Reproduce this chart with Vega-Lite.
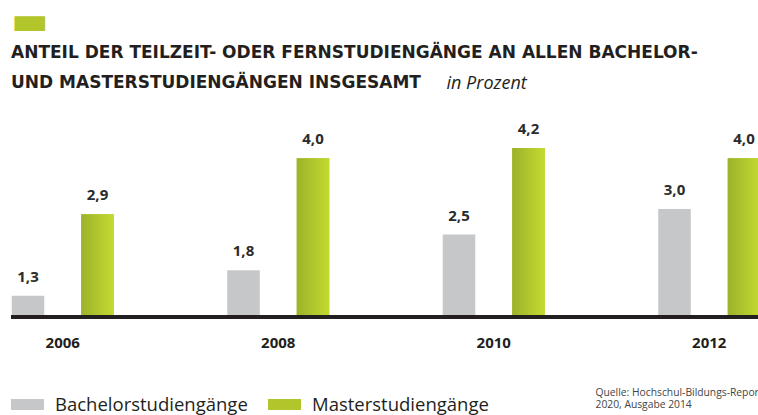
{
  "$schema": "https://vega.github.io/schema/vega-lite/v6.json",
  "width": 747,
  "height": 200,
  "autosize": "none",
  "padding": {"left": 11, "top": 115, "right": 0, "bottom": 100},
  "background": "white",
  "title": {
    "text": "▬",
    "subtitle": ["ANTEIL DER TEILZEIT- ODER FERNSTUDIENGÄNGE AN ALLEN BACHELOR-", "UND MASTERSTUDIENGÄNGEN INSGESAMT"],
    "anchor": "start",
    "frame": "group",
    "font": "DejaVu Sans",
    "fontSize": 40,
    "fontWeight": "normal",
    "color": "#b2c62c",
    "subtitleFont": "DejaVu Sans",
    "subtitleFontSize": 17,
    "subtitleFontWeight": "bold",
    "subtitleColor": "#231f20",
    "subtitleLineHeight": 30,
    "subtitlePadding": 3,
    "offset": -17
  },
  "data": {
    "values": [
      {"jahr": "2006", "typ": "Bachelorstudiengänge", "wert": 1.3},
      {"jahr": "2006", "typ": "Masterstudiengänge", "wert": 2.9},
      {"jahr": "2008", "typ": "Bachelorstudiengänge", "wert": 1.8},
      {"jahr": "2008", "typ": "Masterstudiengänge", "wert": 4.0},
      {"jahr": "2010", "typ": "Bachelorstudiengänge", "wert": 2.5},
      {"jahr": "2010", "typ": "Masterstudiengänge", "wert": 4.2},
      {"jahr": "2012", "typ": "Bachelorstudiengänge", "wert": 3.0},
      {"jahr": "2012", "typ": "Masterstudiengänge", "wert": 4.0}
    ]
  },
  "layer": [
    {
      "mark": {"type": "bar"},
      "encoding": {
        "x": {
          "field": "jahr", "type": "nominal",
          "scale": {"range": [-56, 806], "paddingInner": 0, "paddingOuter": 0},
          "axis": {
            "title": ["Quelle: Hochschul-Bildungs-Report", "2020, Ausgabe 2014"],
            "titleX": 584, "titleY": 72, "titleAlign": "left", "titleBaseline": "top",
            "titleFont": "Open Sans", "titleFontSize": 10.3, "titleFontWeight": "normal",
            "titleColor": "#444444", "titleLineHeight": 12.5,
            "labelFont": "Open Sans", "labelFontSize": 15, "labelFontWeight": "bold",
            "labelColor": "#231f20", "labelAngle": 0, "labelPadding": 20,
            "domain": false, "ticks": false, "grid": false
          }
        },
        "xOffset": {"field": "typ", "type": "nominal", "scale": {"paddingInner": 0.532, "paddingOuter": 0.8165}},
        "y": {
          "field": "wert", "type": "quantitative",
          "scale": {"domain": [0.92, 4.847], "zero": false, "nice": false},
          "axis": {
            "title": "in Prozent", "titleAngle": 0, "titleX": 435, "titleY": -27,
            "titleAlign": "left", "titleBaseline": "alphabetic",
            "titleFont": "Open Sans", "titleFontStyle": "italic", "titleFontWeight": "normal",
            "titleFontSize": 18, "titleColor": "#231f20",
            "labels": false, "ticks": false, "domain": false, "grid": false
          }
        },
        "y2": {"datum": 0.92},
        "color": {
          "field": "typ", "type": "nominal",
          "scale": {
            "domain": ["Bachelorstudiengänge", "Masterstudiengänge"],
            "range": ["#c6c7c9", "#b2c62c"]
          },
          "legend": {
            "orient": "none", "legendX": 0, "legendY": 273, "direction": "horizontal",
            "title": null, "padding": 0,
            "symbolType": "M-1,-0.34H1V0.34H-1Z", "symbolSize": 1089, "symbolStrokeWidth": 0,
            "labelFont": "Open Sans", "labelFontSize": 18.5, "labelColor": "#231f20",
            "labelOffset": 11, "columnPadding": 20, "labelLimit": 400,
            "encode": {
              "symbols": {
                "update": {
                  "fill": [
                    {"test": "datum.value === 'Masterstudiengänge'", "value": {"gradient": "linear", "x1": 0, "y1": 0, "x2": 1, "y2": 0, "stops": [{"offset": 0, "color": "#9db22a"}, {"offset": 1, "color": "#c4da30"}]}},
                    {"value": "#c6c7c9"}
                  ]
                }
              }
            }
          }
        }
      }
    },
    {
      "transform": [{"filter": "datum.typ === 'Masterstudiengänge'"}],
      "mark": {"type": "bar", "color": {"gradient": "linear", "x1": 0, "y1": 0, "x2": 1, "y2": 0, "stops": [{"offset": 0, "color": "#9db22a"}, {"offset": 1, "color": "#c4da30"}]}},
      "encoding": {
        "x": {"field": "jahr", "type": "nominal"},
        "xOffset": {"field": "typ", "type": "nominal"},
        "y": {"field": "wert", "type": "quantitative"},
        "y2": {"datum": 0.92}
      }
    },
    {
      "mark": {"type": "text", "dy": -19, "baseline": "middle", "font": "Open Sans", "fontSize": 15, "fontWeight": "bold", "color": "#2b2b2b"},
      "encoding": {
        "x": {"field": "jahr", "type": "nominal"},
        "xOffset": {"field": "typ", "type": "nominal"},
        "y": {"field": "wert", "type": "quantitative"},
        "text": {"field": "wert", "type": "quantitative", "format": ".1f"}
      }
    },
    {
      "mark": {"type": "rule", "color": "#231f20", "strokeWidth": 4, "yOffset": 2},
      "encoding": {"y": {"datum": 0.92}}
    }
  ],
  "config": {
    "view": {"stroke": null},
    "font": "Open Sans",
    "locale": {"number": {"decimal": ",", "thousands": ".", "grouping": [3], "currency": ["", " €"]}}
  }
}
